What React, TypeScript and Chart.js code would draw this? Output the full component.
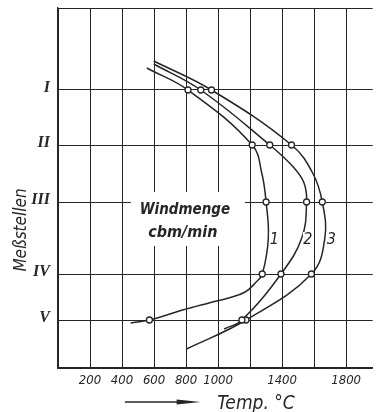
import React, { useEffect, useRef } from "react";
import { Chart, registerables } from "chart.js";

Chart.register(...registerables);

// Measuring stations (Meßstellen) and their depth below the top edge of the grid
const stationNames = ["I", "II", "III", "IV", "V"];
const stationDepth = [8.2, 13.7, 19.4, 26.6, 31.2];
const depthMax = 36;

// Temperature axis: grid every 200 °C, only some of them lettered
const tempGrid = [0, 200, 400, 600, 800, 1000, 1200, 1400, 1600, 1800];
const tempLabels = [200, 400, 600, 800, 1000, 1400, 1800];
const tempMax = 1966;

// Measured temperatures (°C) at stations I..V for blast volumes 1, 2 and 3
const temps1 = [812, 1213, 1300, 1276, 571];
const temps2 = [892, 1323, 1553, 1393, 1149];
const temps3 = [959, 1459, 1651, 1583, 1174];

// Further points along each drawn curve (°C, depth), between and beyond the stations
const course1 = [[555, 6.0], [1273, 16.5], [1314, 23.0], [1232, 27.5], [1169, 28.4], [1066, 29.0], [943, 29.5], [778, 30.2], [454, 31.5]];
const course2 = [[598, 5.6], [1470, 15.9], [1537, 17.5], [1523, 23.0], [1038, 32.1]];
const course3 = [[598, 5.3], [1591, 16.5], [1667, 23.0], [803, 34.1]];

const curveNames = ["1", "2", "3"];
const curveLabelAt = [[1352, 23.2], [1561, 23.2], [1708, 23.2]];

const INK = "#262626";
const HAND = "'DejaVu Sans Condensed', 'Liberation Sans Narrow', 'DejaVu Sans', sans-serif";
const ROMAN = "'Liberation Serif', 'DejaVu Serif', serif";

type P = { x: number; y: number };

function stationPoints(temps: number[]): P[] {
  return temps.map((t, i) => ({ x: t, y: stationDepth[i] }));
}

function curvePoints(temps: number[], course: number[][]): P[] {
  const pts = stationPoints(temps).concat(course.map(([x, y]) => ({ x, y })));
  return pts.sort((a, b) => a.y - b.y);
}

const overlay = {
  id: "overlay",
  beforeDraw(chart: any) {
    const { ctx, width, height } = chart;
    ctx.save();
    ctx.fillStyle = "#ffffff";
    ctx.fillRect(0, 0, width, height);
    ctx.restore();
  },
  beforeDatasetsDraw(chart: any) {
    const { ctx } = chart;
    const sx = chart.scales.x;
    const sy = chart.scales.y;
    // clear the grid behind the legend text
    const x0 = sx.getPixelForValue(455);
    const x1 = sx.getPixelForValue(1167);
    const y0 = sy.getPixelForValue(18.4);
    const y1 = sy.getPixelForValue(23.8);
    ctx.save();
    ctx.fillStyle = "#ffffff";
    ctx.fillRect(x0, y0, x1 - x0, y1 - y0);
    ctx.restore();
  },
  afterDraw(chart: any) {
    const { ctx } = chart;
    const sx = chart.scales.x;
    const sy = chart.scales.y;
    ctx.save();
    ctx.fillStyle = INK;
    ctx.strokeStyle = INK;
    ctx.textAlign = "center";
    ctx.textBaseline = "middle";

    ctx.font = `italic bold 15px ${HAND}`;
    ctx.fillText("Windmenge", sx.getPixelForValue(793), sy.getPixelForValue(20.2));
    ctx.font = `italic bold 16px ${HAND}`;
    ctx.fillText("cbm/min", sx.getPixelForValue(780), sy.getPixelForValue(22.5));

    ctx.font = `italic 16px ${HAND}`;
    curveNames.forEach((n, i) => {
      const [t, d] = curveLabelAt[i];
      const px = sx.getPixelForValue(t);
      const py = sy.getPixelForValue(d);
      ctx.fillStyle = "#ffffff";
      ctx.fillRect(px - 5, py - 8, 10, 16);
      ctx.fillStyle = INK;
      ctx.fillText(n, px, py);
    });

    // vertical axis title
    ctx.save();
    ctx.translate(22, sy.getPixelForValue(22.2));
    ctx.rotate(-Math.PI / 2);
    ctx.font = `italic 17px ${HAND}`;
    ctx.fillText("Meßstellen", 0, 0);
    ctx.restore();

    // horizontal axis title with arrow
    const ay = 402;
    const a0 = sx.getPixelForValue(418);
    const a1 = sx.getPixelForValue(891);
    ctx.lineWidth = 1.3;
    ctx.beginPath();
    ctx.moveTo(a0, ay);
    ctx.lineTo(a1 - 20, ay);
    ctx.stroke();
    ctx.beginPath();
    ctx.moveTo(a1 - 24, ay - 2.5);
    ctx.lineTo(a1, ay);
    ctx.lineTo(a1 - 24, ay + 2.5);
    ctx.closePath();
    ctx.fill();
    ctx.textAlign = "left";
    ctx.textBaseline = "alphabetic";
    ctx.font = `italic 19px ${HAND}`;
    ctx.fillText("Temp. °C", sx.getPixelForValue(995), 409);
    ctx.restore();
  },
};

export default function App() {
  const ref = useRef<HTMLCanvasElement | null>(null);

  useEffect(() => {
    if (!ref.current) return;
    const series = [
      { temps: temps1, course: course1 },
      { temps: temps2, course: course2 },
      { temps: temps3, course: course3 },
    ];
    const datasets: any[] = [];
    series.forEach((s, i) => {
      datasets.push({
        label: curveNames[i],
        data: curvePoints(s.temps, s.course),
        borderColor: INK,
        borderWidth: 1.5,
        pointRadius: 0,
        fill: false,
        tension: 0.4,
        order: 2,
      });
    });
    series.forEach((s, i) => {
      datasets.push({
        label: curveNames[i] + " Messwerte",
        data: stationPoints(s.temps),
        showLine: false,
        pointRadius: 3,
        pointBorderWidth: 1.3,
        pointBackgroundColor: "#ffffff",
        pointBorderColor: INK,
        order: 1,
      });
    });

    const chart = new Chart(ref.current, {
      type: "line",
      data: { datasets },
      plugins: [overlay],
      options: {
        animation: false,
        responsive: false,
        indexAxis: "y",
        layout: { padding: { top: 8, right: 0, bottom: 0, left: 0 } },
        plugins: { legend: { display: false }, tooltip: { enabled: false } },
        scales: {
          x: {
            type: "linear",
            min: 0,
            max: tempMax,
            afterBuildTicks: (scale: any) => {
              scale.ticks = tempGrid.map((v) => ({ value: v }));
            },
            afterFit: (scale: any) => {
              scale.height = 44;
              scale.paddingLeft = 0;
              scale.paddingRight = 0;
            },
            grid: { color: INK, lineWidth: 1, drawTicks: false },
            border: { color: INK, width: 1.3 },
            ticks: {
              autoSkip: false,
              maxRotation: 0,
              padding: 5,
              color: INK,
              font: { family: HAND, size: 13, style: "italic" },
              callback: (v: any) => (tempLabels.includes(Number(v)) ? String(v) : ""),
            },
          },
          y: {
            type: "linear",
            reverse: true,
            min: 0,
            max: depthMax,
            afterBuildTicks: (scale: any) => {
              scale.ticks = [0, ...stationDepth, depthMax].map((v) => ({ value: v }));
            },
            afterFit: (scale: any) => {
              scale.width = 58;
              scale.paddingTop = 0;
              scale.paddingBottom = 0;
            },
            grid: { color: INK, lineWidth: 1, drawTicks: false },
            border: { color: INK, width: 1.3 },
            ticks: {
              autoSkip: false,
              padding: 8,
              labelOffset: -2,
              color: INK,
              font: { family: ROMAN, size: 16, style: "italic", weight: "bold" },
              callback: (v: any) => {
                const k = stationDepth.indexOf(Number(v));
                return k >= 0 ? stationNames[k] : "";
              },
            },
          },
        },
      } as any,
    });
    return () => chart.destroy();
  }, []);

  return (
    <div style={{ position: "fixed", left: 0, top: 0, width: 378, height: 412, background: "#fff" }}>
      <canvas ref={ref} width={378} height={412} style={{ display: "block" }} />
    </div>
  );
}
